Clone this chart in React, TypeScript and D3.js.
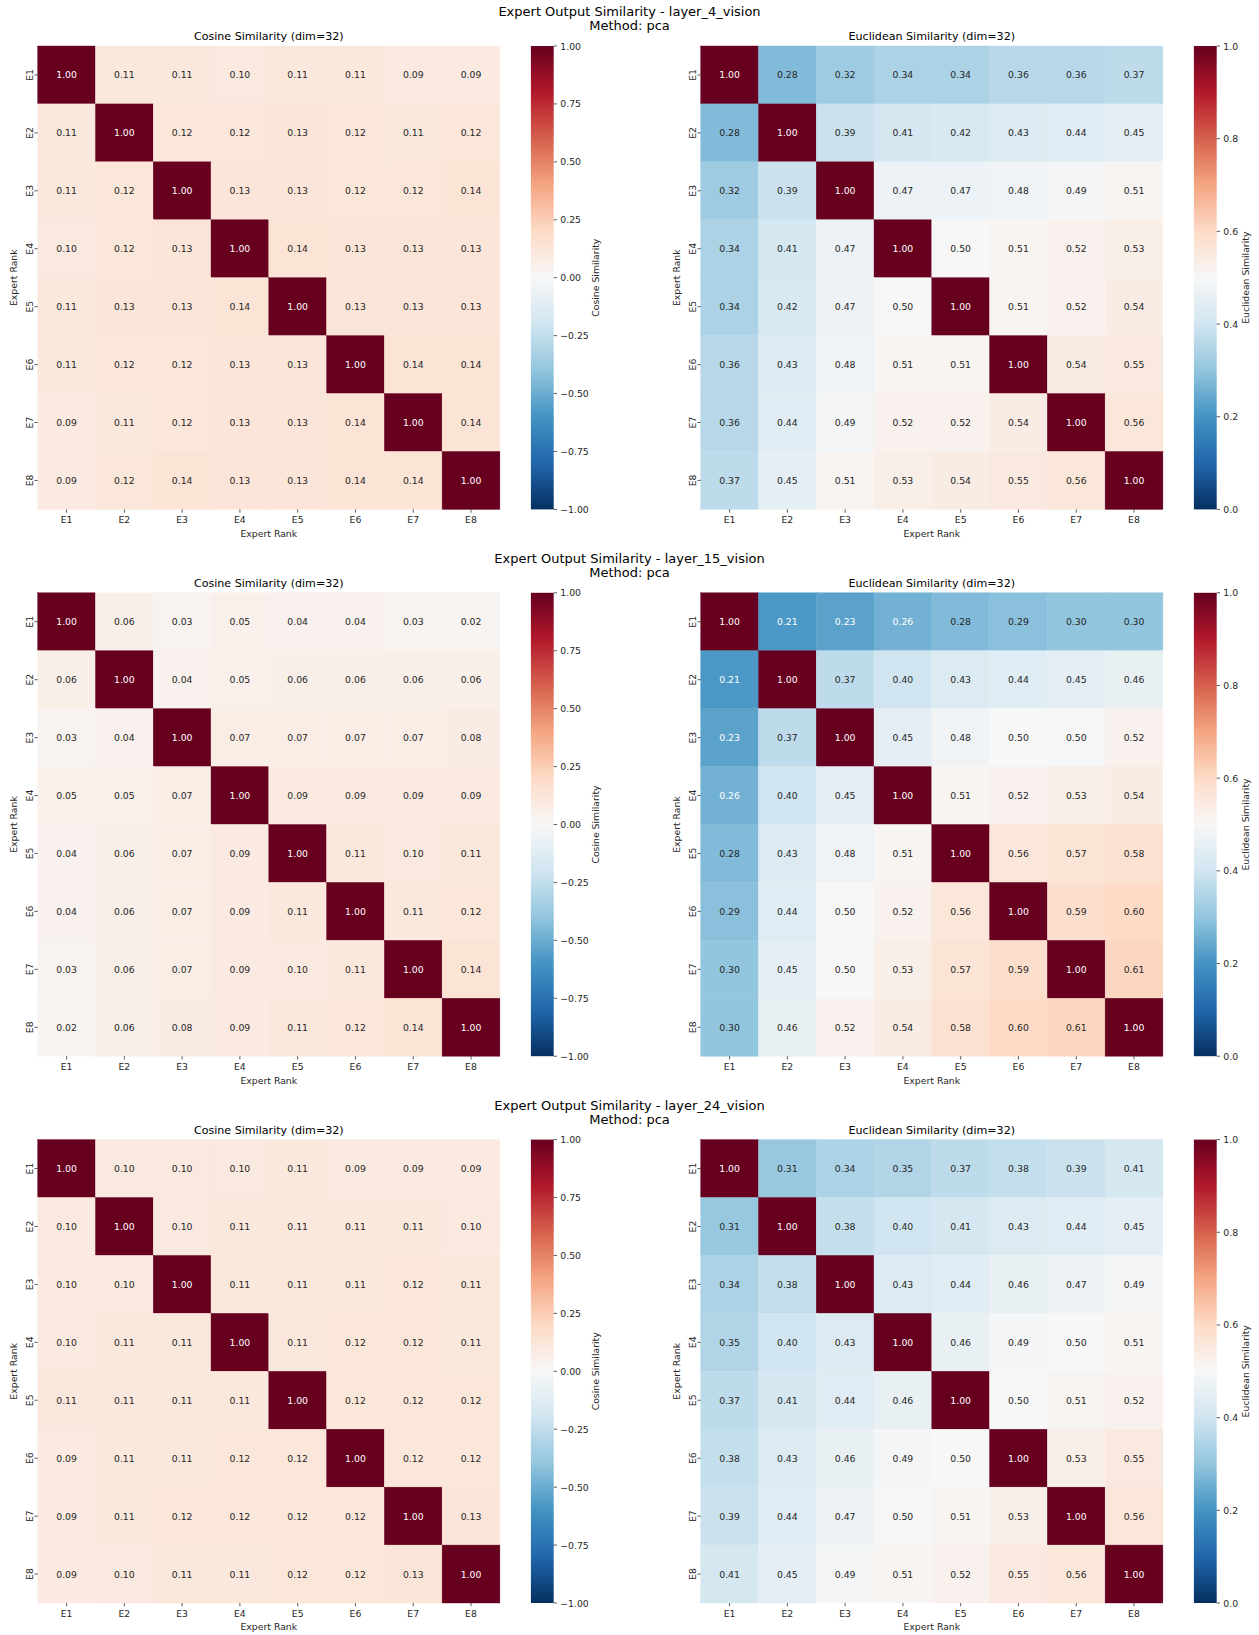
import React from "react";
import * as d3 from "d3";

// ---- data -------------------------------------------------------------
const experts = ["E1", "E2", "E3", "E4", "E5", "E6", "E7", "E8"];
const layerNames = ["layer_4_vision", "layer_15_vision", "layer_24_vision"];
const methodName = "pca";
const dim = 32;

const cosineLayer4 = [
  [1.0, 0.11, 0.11, 0.1, 0.11, 0.11, 0.09, 0.09],
  [0.11, 1.0, 0.12, 0.12, 0.13, 0.12, 0.11, 0.12],
  [0.11, 0.12, 1.0, 0.13, 0.13, 0.12, 0.12, 0.14],
  [0.1, 0.12, 0.13, 1.0, 0.14, 0.13, 0.13, 0.13],
  [0.11, 0.13, 0.13, 0.14, 1.0, 0.13, 0.13, 0.13],
  [0.11, 0.12, 0.12, 0.13, 0.13, 1.0, 0.14, 0.14],
  [0.09, 0.11, 0.12, 0.13, 0.13, 0.14, 1.0, 0.14],
  [0.09, 0.12, 0.14, 0.13, 0.13, 0.14, 0.14, 1.0],
];
const euclideanLayer4 = [
  [1.0, 0.28, 0.32, 0.34, 0.34, 0.36, 0.36, 0.37],
  [0.28, 1.0, 0.39, 0.41, 0.42, 0.43, 0.44, 0.45],
  [0.32, 0.39, 1.0, 0.47, 0.47, 0.48, 0.49, 0.51],
  [0.34, 0.41, 0.47, 1.0, 0.5, 0.51, 0.52, 0.53],
  [0.34, 0.42, 0.47, 0.5, 1.0, 0.51, 0.52, 0.54],
  [0.36, 0.43, 0.48, 0.51, 0.51, 1.0, 0.54, 0.55],
  [0.36, 0.44, 0.49, 0.52, 0.52, 0.54, 1.0, 0.56],
  [0.37, 0.45, 0.51, 0.53, 0.54, 0.55, 0.56, 1.0],
];
const cosineLayer15 = [
  [1.0, 0.06, 0.03, 0.05, 0.04, 0.04, 0.03, 0.02],
  [0.06, 1.0, 0.04, 0.05, 0.06, 0.06, 0.06, 0.06],
  [0.03, 0.04, 1.0, 0.07, 0.07, 0.07, 0.07, 0.08],
  [0.05, 0.05, 0.07, 1.0, 0.09, 0.09, 0.09, 0.09],
  [0.04, 0.06, 0.07, 0.09, 1.0, 0.11, 0.1, 0.11],
  [0.04, 0.06, 0.07, 0.09, 0.11, 1.0, 0.11, 0.12],
  [0.03, 0.06, 0.07, 0.09, 0.1, 0.11, 1.0, 0.14],
  [0.02, 0.06, 0.08, 0.09, 0.11, 0.12, 0.14, 1.0],
];
const euclideanLayer15 = [
  [1.0, 0.21, 0.23, 0.26, 0.28, 0.29, 0.3, 0.3],
  [0.21, 1.0, 0.37, 0.4, 0.43, 0.44, 0.45, 0.46],
  [0.23, 0.37, 1.0, 0.45, 0.48, 0.5, 0.5, 0.52],
  [0.26, 0.4, 0.45, 1.0, 0.51, 0.52, 0.53, 0.54],
  [0.28, 0.43, 0.48, 0.51, 1.0, 0.56, 0.57, 0.58],
  [0.29, 0.44, 0.5, 0.52, 0.56, 1.0, 0.59, 0.6],
  [0.3, 0.45, 0.5, 0.53, 0.57, 0.59, 1.0, 0.61],
  [0.3, 0.46, 0.52, 0.54, 0.58, 0.6, 0.61, 1.0],
];
const cosineLayer24 = [
  [1.0, 0.1, 0.1, 0.1, 0.11, 0.09, 0.09, 0.09],
  [0.1, 1.0, 0.1, 0.11, 0.11, 0.11, 0.11, 0.1],
  [0.1, 0.1, 1.0, 0.11, 0.11, 0.11, 0.12, 0.11],
  [0.1, 0.11, 0.11, 1.0, 0.11, 0.12, 0.12, 0.11],
  [0.11, 0.11, 0.11, 0.11, 1.0, 0.12, 0.12, 0.12],
  [0.09, 0.11, 0.11, 0.12, 0.12, 1.0, 0.12, 0.12],
  [0.09, 0.11, 0.12, 0.12, 0.12, 0.12, 1.0, 0.13],
  [0.09, 0.1, 0.11, 0.11, 0.12, 0.12, 0.13, 1.0],
];
const euclideanLayer24 = [
  [1.0, 0.31, 0.34, 0.35, 0.37, 0.38, 0.39, 0.41],
  [0.31, 1.0, 0.38, 0.4, 0.41, 0.43, 0.44, 0.45],
  [0.34, 0.38, 1.0, 0.43, 0.44, 0.46, 0.47, 0.49],
  [0.35, 0.4, 0.43, 1.0, 0.46, 0.49, 0.5, 0.51],
  [0.37, 0.41, 0.44, 0.46, 1.0, 0.5, 0.51, 0.52],
  [0.38, 0.43, 0.46, 0.49, 0.5, 1.0, 0.53, 0.55],
  [0.39, 0.44, 0.47, 0.5, 0.51, 0.53, 1.0, 0.56],
  [0.41, 0.45, 0.49, 0.51, 0.52, 0.55, 0.56, 1.0],
];

const cosineMatrices = [cosineLayer4, cosineLayer15, cosineLayer24];
const euclideanMatrices = [euclideanLayer4, euclideanLayer15, euclideanLayer24];

const cosineTicks = [-1, -0.75, -0.5, -0.25, 0, 0.25, 0.5, 0.75, 1];
const euclideanTicks = [0, 0.2, 0.4, 0.6, 0.8, 1];

// RdBu_r anchor colours (low -> high)
const rdbuR = [
  "#053061", "#2166ac", "#4393c3", "#92c5de", "#d1e5f0", "#f7f7f7",
  "#fddbc7", "#f4a582", "#d6604d", "#b2182b", "#67001f",
];

// ---- layout -----------------------------------------------------------
const W = 1259;
const H = 1635;
const FONT = "DejaVu Sans";
const rowTops = [46, 592.8, 1139.6];
const mapW = 462.2;
const mapH = 463.4;
const panelLefts = [37.7, 700.7];
const cbarGap = 31;
const cbarW = 22.8;

const cmapT = d3
  .scaleLinear<string>()
  .domain(d3.range(rdbuR.length).map((i) => i / (rdbuR.length - 1)))
  .range(rdbuR)
  .interpolate(d3.interpolateRgb)
  .clamp(true);

function luminance(c: string) {
  const rgb = d3.rgb(c);
  const lin = (v: number) => {
    const s = v / 255;
    return s <= 0.03928 ? s / 12.92 : Math.pow((s + 0.055) / 1.055, 2.4);
  };
  return 0.2126 * lin(rgb.r) + 0.7152 * lin(rgb.g) + 0.0722 * lin(rgb.b);
}

const fmtMinus = (s: string) => s.replace("-", "\u2212");

type PanelProps = {
  x0: number;
  y0: number;
  matrix: number[][];
  vmin: number;
  vmax: number;
  title: string;
  cbarLabel: string;
  ticks: number[];
  tickFmt: (v: number) => string;
  cbarLabelOffset: number;
  gradId: string;
};

function Panel(p: PanelProps) {
  const xs = d3.scaleBand<string>().domain(experts).range([p.x0, p.x0 + mapW]);
  const ys = d3.scaleBand<string>().domain(experts).range([p.y0, p.y0 + mapH]);
  const norm = d3.scaleLinear().domain([p.vmin, p.vmax]).range([0, 1]).clamp(true);
  const color = (v: number) => cmapT(norm(v));
  const cbX = p.x0 + mapW + cbarGap;
  const cbY = d3.scaleLinear().domain([p.vmin, p.vmax]).range([p.y0 + mapH, p.y0]);
  const bottom = p.y0 + mapH;
  const midY = p.y0 + mapH / 2;

  return (
    <g fontFamily={FONT}>
      <text x={p.x0 + mapW / 2} y={p.y0 - 5.6} textAnchor="middle" fontSize={11.1} fill="#000">
        {p.title}
      </text>
      {p.matrix.map((row, i) =>
        row.map((v, j) => {
          const c = color(v);
          const dark = luminance(c) > 0.408;
          return (
            <g key={`${i}-${j}`}>
              <rect
                x={xs(experts[j])}
                y={ys(experts[i])}
                width={xs.bandwidth()}
                height={ys.bandwidth()}
                fill={c}
                stroke={c}
                strokeWidth={0.4}
              />
              <text
                x={(xs(experts[j]) as number) + xs.bandwidth() / 2}
                y={(ys(experts[i]) as number) + ys.bandwidth() / 2}
                textAnchor="middle"
                dominantBaseline="central"
                fontSize={9.3}
                fill={dark ? "#262626" : "#ffffff"}
              >
                {v.toFixed(2)}
              </text>
            </g>
          );
        })
      )}
      {/* x axis */}
      {experts.map((e) => {
        const cx = (xs(e) as number) + xs.bandwidth() / 2;
        return (
          <g key={`xt-${e}`}>
            <line x1={cx} x2={cx} y1={bottom} y2={bottom + 3.3} stroke="#262626" strokeWidth={0.75} />
            <text x={cx} y={bottom + 13.6} textAnchor="middle" fontSize={9.3} fill="#262626">
              {e}
            </text>
          </g>
        );
      })}
      <text x={p.x0 + mapW / 2} y={bottom + 27.3} textAnchor="middle" fontSize={9.3} fill="#262626">
        Expert Rank
      </text>
      {/* y axis */}
      {experts.map((e) => {
        const cy = (ys(e) as number) + ys.bandwidth() / 2;
        return (
          <g key={`yt-${e}`}>
            <line x1={p.x0 - 3.3} x2={p.x0} y1={cy} y2={cy} stroke="#262626" strokeWidth={0.75} />
            <text
              transform={`translate(${p.x0 - 4.6},${cy}) rotate(-90)`}
              textAnchor="middle"
              fontSize={9.3}
              fill="#262626"
            >
              {e}
            </text>
          </g>
        );
      })}
      <text
        transform={`translate(${p.x0 - 20.8},${midY}) rotate(-90)`}
        textAnchor="middle"
        fontSize={9.3}
        fill="#262626"
      >
        Expert Rank
      </text>
      {/* colour bar */}
      <rect x={cbX} y={p.y0} width={cbarW} height={mapH} fill={`url(#${p.gradId})`} />
      {p.ticks.map((t) => (
        <g key={`ct-${t}`}>
          <line
            x1={cbX + cbarW}
            x2={cbX + cbarW + 3.3}
            y1={cbY(t)}
            y2={cbY(t)}
            stroke="#262626"
            strokeWidth={0.75}
          />
          <text
            x={cbX + cbarW + 6.6}
            y={cbY(t)}
            dominantBaseline="central"
            fontSize={9.3}
            fill="#262626"
          >
            {p.tickFmt(t)}
          </text>
        </g>
      ))}
      <text
        transform={`translate(${cbX + cbarW + p.cbarLabelOffset},${midY}) rotate(-90)`}
        textAnchor="middle"
        fontSize={9.3}
        fill="#262626"
      >
        {p.cbarLabel}
      </text>
    </g>
  );
}

export default function App() {
  return (
    <div style={{ position: "absolute", left: 0, top: 0, background: "#fff" }}>
      <svg width={W} height={H} viewBox={`0 0 ${W} ${H}`} style={{ display: "block" }}>
        <defs>
          <linearGradient id="rdbu-r" x1="0" y1="1" x2="0" y2="0">
            {rdbuR.map((c, i) => (
              <stop key={c} offset={i / (rdbuR.length - 1)} stopColor={c} />
            ))}
          </linearGradient>
        </defs>
        <rect width={W} height={H} fill="#fff" />
        {layerNames.map((layer, r) => {
          const y0 = rowTops[r];
          return (
            <g key={layer}>
              <text
                x={W / 2}
                y={y0 - 30}
                textAnchor="middle"
                fontFamily={FONT}
                fontSize={13}
                fill="#000"
              >
                {`Expert Output Similarity - ${layer}`}
              </text>
              <text
                x={W / 2}
                y={y0 - 16}
                textAnchor="middle"
                fontFamily={FONT}
                fontSize={13}
                fill="#000"
              >
                {`Method: ${methodName}`}
              </text>
              <Panel
                x0={panelLefts[0]}
                y0={y0}
                matrix={cosineMatrices[r]}
                vmin={-1}
                vmax={1}
                title={`Cosine Similarity (dim=${dim})`}
                cbarLabel="Cosine Similarity"
                ticks={cosineTicks}
                tickFmt={(v) => fmtMinus(v.toFixed(2))}
                cbarLabelOffset={45.2}
                gradId="rdbu-r"
              />
              <Panel
                x0={panelLefts[1]}
                y0={y0}
                matrix={euclideanMatrices[r]}
                vmin={0}
                vmax={1}
                title={`Euclidean Similarity (dim=${dim})`}
                cbarLabel="Euclidean Similarity"
                ticks={euclideanTicks}
                tickFmt={(v) => v.toFixed(1)}
                cbarLabelOffset={31.8}
                gradId="rdbu-r"
              />
            </g>
          );
        })}
      </svg>
    </div>
  );
}
